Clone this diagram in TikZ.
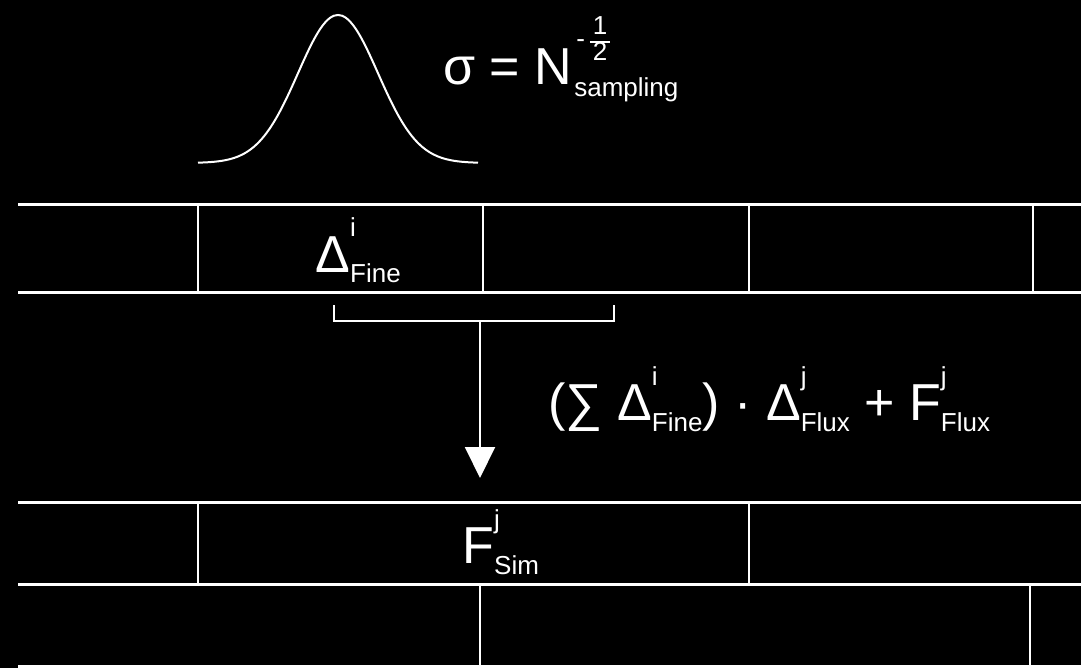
\documentclass[tikz,border=0pt]{standalone}
\usepackage{fontspec}
\setmainfont{Liberation Sans}
\usetikzlibrary{arrows.meta}
% base letter with a stacked superscript and subscript
\newcommand\supsub[3]{#1\rlap{\raisebox{17.5pt}{\fontsize{13}{15}\selectfont #2}}\raisebox{-5.5pt}{\fontsize{13}{15}\selectfont #3}}
\newcommand\halffrac{{\fontsize{13}{11}\selectfont\setlength\arrayrulewidth{0.8pt}\begin{tabular}[c]{@{\kern1.5pt}c@{\kern1.5pt}}1\\\hline 2\end{tabular}}}
\begin{document}
\begin{tikzpicture}[x=0.5pt, y=-0.5pt,
      rowline/.style={white, line width=1.5pt},
      cellline/.style={white, line width=1pt},
      formula/.style={text=white, inner sep=0pt, font=\fontsize{26}{30}\selectfont}]
    \fill[black] (0,0) rectangle (1081,668);
    \useasboundingbox (0,0) rectangle (1081,668);
    % sampling distribution
    \draw[cellline] plot[smooth, domain=-140:140, samples=71] ({338+\x},{163-148*exp(-0.5*(\x/40)*(\x/40))});
    \node[formula, anchor=base west] (sigma) at (443,85) {σ = N\rlap{\raisebox{18.5pt}{\fontsize{13}{15}\selectfont\kern2pt-\kern2.5pt\halffrac}}\raisebox{-6pt}{\fontsize{13}{15}\selectfont\kern1pt sampling}};
    % fine cells
    \draw[rowline] (18,205) -- (1081,205);
    \draw[rowline] (18,292) -- (1081,292);
    \foreach \x in {198,483,749,1033} \draw[cellline] (\x,205) -- (\x,292);
    \node[formula, anchor=base west] (fine) at (315,272) {\supsub{Δ}{i}{Fine}};
    % sum over fine cells
    \draw[cellline] (334,305) -- (334,321) -- (614,321) -- (614,305);
    \coordinate (brk) at (480,321);
    \coordinate (tip) at (480,478);
    \draw[cellline, -{Triangle[width=15pt,length=15.5pt]}] (brk) -- (tip);
    \node[formula, anchor=base west] (update) at (548,420) {(∑ \supsub{Δ}{i}{Fine}) · \supsub{Δ}{j}{Flux} + \supsub{F}{j}{Flux}};
    % coarse cells
    \draw[rowline] (18,502) -- (1081,502);
    \draw[rowline] (18,584) -- (1081,584);
    \draw[rowline] (18,666) -- (1081,666);
    \foreach \x in {198,749} \draw[cellline] (\x,502) -- (\x,584);
    \foreach \x in {480,1030} \draw[cellline] (\x,584) -- (\x,666);
    \node[formula, anchor=base west] (sim) at (462,563) {\supsub{F}{j}{Sim}};
\end{tikzpicture}
\end{document}
